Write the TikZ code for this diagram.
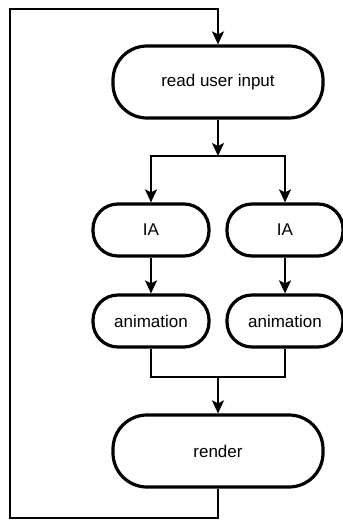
\documentclass[tikz,border=0pt]{standalone}
\usepackage{fontspec}
\setmainfont{Liberation Sans}
\usetikzlibrary{arrows.meta}
\tikzset{
  bigstep/.style={draw, line width=3.2pt, rounded corners=34pt, minimum width=210pt, minimum height=72pt, font=\fontsize{17}{20}\selectfont},
  smallstep/.style={draw, line width=3.2pt, rounded corners=25pt, minimum width=116pt, minimum height=52pt, font=\fontsize{17}{20}\selectfont},
  conn/.style={line width=2pt},
  arr/.style={conn, -{Stealth[length=13pt, width=12pt, inset=3pt]}}
}
\begin{document}
\begin{tikzpicture}[x=1pt, y=-1pt]
\useasboundingbox (0,0) rectangle (343,520);

\node [bigstep] (read) at (218,82) {read user input};
\node [smallstep] (ia1) at (151,230) {IA};
\node [smallstep] (ia2) at (285,230) {IA};
\node [smallstep] (anim1) at (151,321) {animation};
\node [smallstep] (anim2) at (285,321) {animation};
\node [bigstep] (render) at (218,451) {render};

\coordinate (split) at (218,156);
\coordinate (join) at (218,377);
\coordinate (loopBL) at (10,518);
\coordinate (loopTL) at (10,9);

\draw [arr] (read) -- (split);
\draw [arr] (split) -| (ia1);
\draw [arr] (split) -| (ia2);
\draw [arr] (ia1) -- (anim1);
\draw [arr] (ia2) -- (anim2);
\draw [conn] (anim1) |- (join);
\draw [conn] (anim2) |- (join);
\draw [arr] (join) -- (render);
\draw [arr] (render) |- (loopBL) -- (loopTL) -| (read); % back to the top

\end{tikzpicture}
\end{document}
